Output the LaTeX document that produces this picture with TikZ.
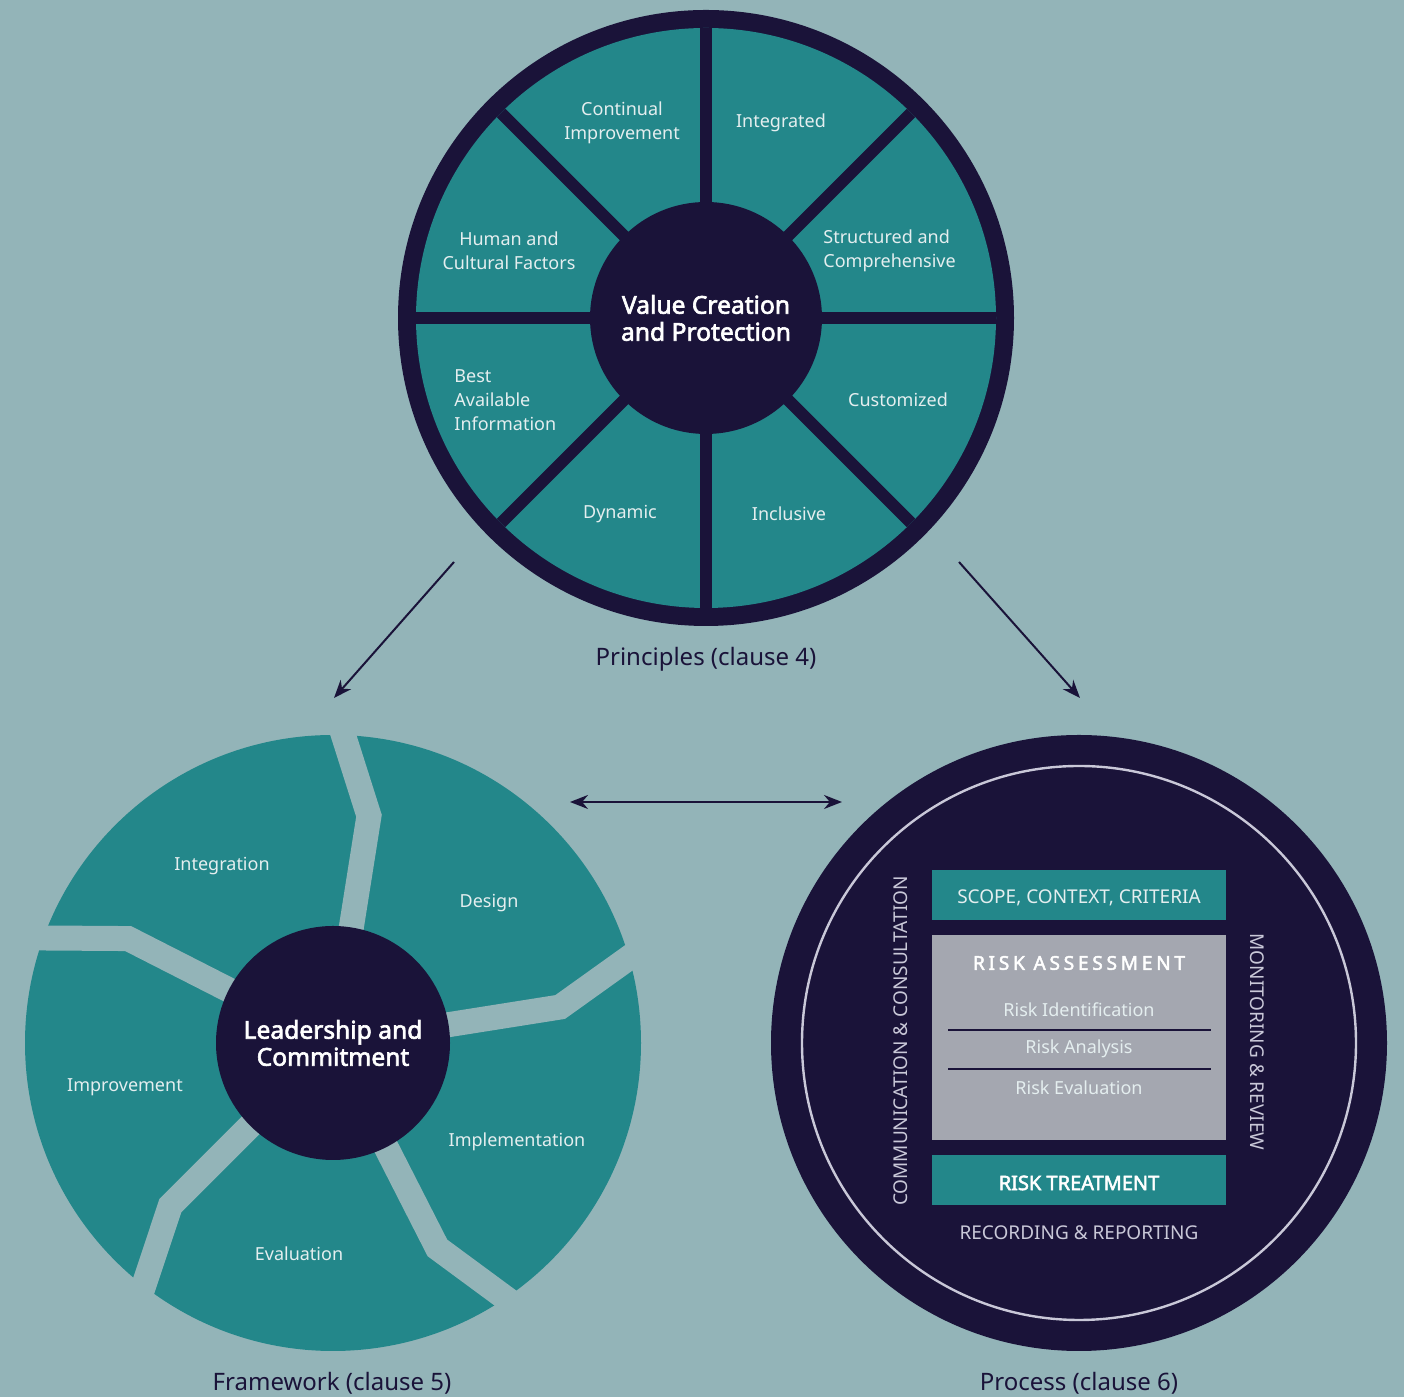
\documentclass[tikz,border=0pt]{standalone}
\usepackage{fontspec}
\setmainfont{Noto Sans}[BoldFont={Noto Sans}, BoldFeatures={FakeBold=2.5}]
\usetikzlibrary{arrows.meta}
\definecolor{isoSky}{HTML}{93B4B8}
\definecolor{isoTeal}{HTML}{23878A}
\definecolor{isoNavy}{HTML}{1A1339}
\definecolor{isoMist}{HTML}{E4EEEF}
\definecolor{isoSteel}{HTML}{A4A7B0}
\definecolor{isoLilac}{HTML}{C9C8D8}

\tikzset{
  seglabel/.style={text=isoMist, font=\fontsize{9}{12}\selectfont, align=center, inner sep=0pt},
  hub/.style={circle, fill=isoNavy, inner sep=0pt, text=white, align=center,
    font=\bfseries\fontsize{12.3}{13.5}\selectfont},
  clauselabel/.style={text=isoNavy, font=\fontsize{12}{14}\selectfont},
  flow/.style={isoNavy, line width=1pt, -{Stealth[length=9pt,width=7pt]}},
  twoway/.style={isoNavy, line width=1pt, {Stealth[length=9pt,width=7pt]}-{Stealth[length=9pt,width=7pt]}},
  gap/.style={isoSky, line width=12.5pt, line join=miter, shorten >=-12pt},
  tealbar/.style={fill=isoTeal, minimum width=147pt, minimum height=25pt, inner sep=0pt,
    text height=8.8pt, text depth=0pt, text=isoMist, font=\fontsize{9.5}{11}\selectfont},
  steplabel/.style={text=isoMist, font=\fontsize{9}{11}\selectfont},
  sidelabel/.style={text=isoLilac, font=\fontsize{9.5}{11}\selectfont},
}

\begin{document}
\begin{tikzpicture}[x=0.5pt, y=0.5pt]
  \useasboundingbox (0,0) rectangle (1404,1397);
  \fill[isoSky] (0,0) rectangle (1404,1397);

  % principles wheel
  \begin{scope}[shift={(706,1079)}]
    \fill[isoNavy] (0,0) circle (308);
    \fill[isoTeal] (0,0) circle (290);
    \foreach \a in {0,45,90,135}
      \draw[isoNavy, line width=6pt] (\a:290) -- (\a+180:290);
  \end{scope}
  \node[hub, minimum size=116pt] (value) at (706,1079) {Value Creation\\and Protection};
  \node[seglabel] (continual) at (622,1274) {Continual\\Improvement};
  \node[seglabel] (integrated) at (781,1274) {Integrated};
  \node[seglabel] (human) at (509,1146) {Human and\\Cultural Factors};
  \node[seglabel, anchor=west, align=left] (structured) at (823,1146) {Structured and\\Comprehensive};
  \node[seglabel, anchor=west, align=left] (best) at (454,997) {Best\\Available\\Information};
  \node[seglabel] (customized) at (898,997) {Customized};
  \node[seglabel] (dynamic) at (620,883) {Dynamic};
  \node[seglabel] (inclusive) at (789,883) {Inclusive};
  \node[clauselabel] (principles) at (706,738) {Principles (clause 4)};

  % framework wheel
  \begin{scope}[shift={(333,354)}]
    \fill[isoTeal] (0,0) circle (308);
    \foreach \a in {81,9,-63,-135,153}
      \draw[gap] (\a:100) -- (\a:230) -- (\a+7:307);
  \end{scope}
  \node[hub, minimum size=117pt] (leadership) at (333,354) {Leadership and\\Commitment};
  \node[seglabel] (integration) at (222,531) {Integration};
  \node[seglabel] (design) at (489,494) {Design};
  \node[seglabel] (improvement) at (125,310) {Improvement};
  \node[seglabel] (implementation) at (517,255) {Implementation};
  \node[seglabel] (evaluation) at (299,143) {Evaluation};
  \node[clauselabel] (framework) at (332,14) {Framework (clause 5)};

  % process wheel
  \fill[isoNavy] (1079,354) circle (308);
  \draw[isoLilac, line width=1.2pt] (1079,354) circle (277);
  \node[tealbar] (scope) at (1079,502) {SCOPE, CONTEXT, CRITERIA};
  \node[fill=isoSteel, minimum width=147pt, minimum height=102.5pt, inner sep=0pt] (assess) at (1079,359.5) {};
  \node[text=white, font=\bfseries\fontsize{9.5}{11}\selectfont\addfontfeature{LetterSpace=20}] (assessTitle) at (1079,434) {RISK ASSESSMENT};
  \node[steplabel] (identify) at (1079,387) {Risk Identification};
  \node[steplabel] (analyse) at (1079,348) {Risk Analysis};
  \node[steplabel] (evaluate) at (1079,309) {Risk Evaluation};
  \draw[isoNavy, line width=0.8pt] (948,367) -- (1211,367);
  \draw[isoNavy, line width=0.8pt] (948,328) -- (1211,328);
  \node[tealbar, text height=9.6pt, text=white, font=\bfseries\fontsize{10}{11}\selectfont] (treat) at (1079,216.5) {RISK TREATMENT};
  \node[sidelabel] (record) at (1079,164) {RECORDING \& REPORTING};
  \node[sidelabel, rotate=90] (comms) at (901,356) {COMMUNICATION \& CONSULTATION};
  \node[sidelabel, rotate=-90] (monitor) at (1257,355) {MONITORING \& REVIEW};
  \node[clauselabel] (process) at (1079,14) {Process (clause 6)};

  % links between the three parts
  \coordinate (prinLeft) at (454,835);
  \coordinate (frameTip) at (334,699);
  \coordinate (prinRight) at (959,835);
  \coordinate (procTip) at (1080,699);
  \coordinate (frameEnd) at (570,595);
  \coordinate (procEnd) at (842,595);
  \draw[flow] (prinLeft) -- (frameTip);
  \draw[flow] (prinRight) -- (procTip);
  \draw[twoway] (frameEnd) -- (procEnd);
\end{tikzpicture}
\end{document}
